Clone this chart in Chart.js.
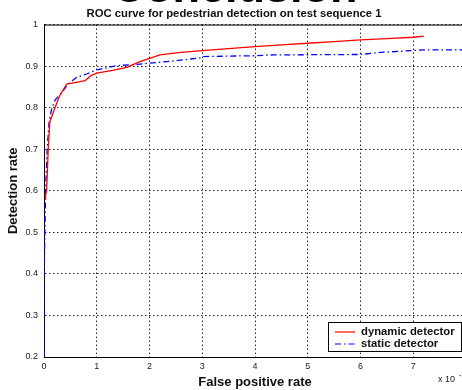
<!DOCTYPE html>
<html>
<head>
<meta charset="utf-8">
<script src="https://cdn.jsdelivr.net/npm/chart.js@4/dist/chart.umd.min.js"></script>
<style>
  html, body { margin: 0; padding: 0; background: #fff; overflow: hidden; }
  #roc { display: block; }
</style>
</head>
<body>
<canvas id="roc" width="470" height="390"></canvas>
<script>
// dynamic detector (red, solid)
const dynamicX = [0.02, 0.03, 0.05, 0.08, 0.11, 0.18, 0.29, 0.43, 0.53, 0.78, 0.89, 1.0, 1.3, 1.57, 1.82, 2.2, 2.6, 3.0, 3.5, 4.0, 4.5, 5.0, 5.5, 6.0, 6.5, 7.0, 7.2];
const dynamicY = [0.58, 0.59, 0.60, 0.70, 0.765, 0.79, 0.827, 0.857, 0.859, 0.865, 0.877, 0.883, 0.89, 0.897, 0.911, 0.927, 0.933, 0.9375, 0.942, 0.947, 0.951, 0.955, 0.959, 0.963, 0.966, 0.9695, 0.972];
// static detector (blue, dash-dot)
const staticX = [0, 0, 0.01, 0.03, 0.06, 0.1, 0.146, 0.21, 0.34, 0.46, 0.62, 0.81, 1.0, 1.38, 1.82, 2.0, 2.5, 2.96, 3.0, 4.0, 4.35, 6.0, 6.38, 7.0, 7.2, 8.0];
const staticY = [0.2, 0.37, 0.45, 0.6, 0.70, 0.77, 0.797, 0.818, 0.837, 0.857, 0.873, 0.881, 0.891, 0.901, 0.905, 0.907, 0.913, 0.92, 0.923, 0.925, 0.927, 0.928, 0.933, 0.9375, 0.939, 0.939];
const seriesNames = ["dynamic detector", "static detector"];
const xTicks = [0, 1, 2, 3, 4, 5, 6, 7, 8];
const yTicks = [0.2, 0.3, 0.4, 0.5, 0.6, 0.7, 0.8, 0.9, 1];

const toPoints = (xs, ys) => xs.map((x, i) => ({ x: x, y: ys[i] }));

const FONT = "'Liberation Sans', Arial, Helvetica, sans-serif";
const grid = { color: "#222", lineWidth: 1, drawTicks: false };
//in v4 the dash of the grid lines sits on border
const border = { display: true, color: "#000", width: 1, dash: [1.5, 2.5] };

//slide heading, frame, legend box and the x10 exponent
const extras = {
  id: "extras",
  beforeDatasetsDraw: chart => {
    const ctx = chart.ctx;
    const a = chart.chartArea;
    ctx.save();
    // solid frame under the curves
    ctx.strokeStyle = "#000";
    ctx.lineWidth = 1;
    ctx.setLineDash([]);
    ctx.beginPath();
    ctx.moveTo(a.right, a.top + 0.5);
    ctx.lineTo(a.left + 0.5, a.top + 0.5);
    ctx.lineTo(a.left + 0.5, a.bottom + 0.5);
    ctx.lineTo(a.right, a.bottom + 0.5);
    ctx.stroke();
    ctx.restore();
  },
  afterDraw: chart => {
    const ctx = chart.ctx;
    ctx.save();
    // slide heading (mostly cut off at the top)
    ctx.fillStyle = "#000";
    ctx.font = "bold 45px " + FONT;
    ctx.textAlign = "center";
    ctx.textBaseline = "alphabetic";
    ctx.fillText("Conclusion", 235, 2);
    // exponent
    ctx.font = "9px " + FONT;
    ctx.textAlign = "left";
    ctx.textBaseline = "middle";
    ctx.fillStyle = "#222";
    ctx.fillText("x 10", 438, 380);
    ctx.font = "7px " + FONT;
    ctx.fillText("-3", 459, 375);
    // legend
    const bx = 328.5, by = 322.5, bw = 133, bh = 29;
    ctx.fillStyle = "#fff";
    ctx.fillRect(bx, by, bw, bh);
    ctx.strokeStyle = "#000";
    ctx.lineWidth = 1;
    ctx.strokeRect(bx, by, bw, bh);
    ctx.font = "bold 11.3px " + FONT;
    ctx.fillStyle = "#111";
    chart.data.datasets.forEach((ds, i) => {
      const ly = 332 + i * 12;
      ctx.strokeStyle = ds.borderColor;
      ctx.lineWidth = 1.2;
      ctx.setLineDash(ds.borderDash || []);
      ctx.beginPath();
      ctx.moveTo(335, ly);
      ctx.lineTo(355, ly);
      ctx.stroke();
      ctx.setLineDash([]);
      ctx.fillText(ds.label, 361, ly);
    });
    ctx.restore();
  }
};

new Chart(document.getElementById("roc"), {
  type: "line",
  plugins: [extras],
  data: {
    datasets: [
      {
        label: seriesNames[0],
        data: toPoints(dynamicX, dynamicY),
        borderColor: "#ff0000",
        borderWidth: 1.3,
        pointRadius: 0,
        tension: 0,
      },
      {
        label: seriesNames[1],
        data: toPoints(staticX, staticY),
        borderColor: "#0000ff",
        borderWidth: 1.3,
        borderDash: [6, 3, 1.5, 3],
        pointRadius: 0,
        tension: 0,
      },
    ],
  },
  options: {
    responsive: false,
    animation: false,
    layout: { padding: { left: 0, right: 2, top: 0, bottom: 0 } },
    plugins: {
      legend: { display: false },
      tooltip: { enabled: false },
      title: {
        display: true,
        text: "ROC curve for pedestrian detection on test sequence 1",
        color: "#111",
        font: { family: FONT, size: 11.3, weight: "bold" },
        padding: { top: 7, bottom: 4 },
      },
    },
    scales: {
      x: {
        type: "linear",
        min: 0,
        max: 8,
        afterBuildTicks: s => { s.ticks = xTicks.map(v => ({ value: v })); },
        afterFit: s => { s.height = 33; },
        ticks: {
          color: "#222",
          font: { family: FONT, size: 9 },
          padding: 4,
          maxRotation: 0,
          callback: v => (v < 8 ? String(v) : ""),
        },
        grid: grid,
        border: border,
        title: {
          display: true,
          text: "False positive rate",
          color: "#111",
          font: { family: FONT, size: 13, weight: "bold" },
          padding: { top: 1, bottom: 0 },
        },
      },
      y: {
        type: "linear",
        min: 0.2,
        max: 1,
        afterBuildTicks: s => { s.ticks = yTicks.map(v => ({ value: v })); },
        afterFit: s => { s.width = 44; },
        ticks: {
          color: "#222",
          font: { family: FONT, size: 9 },
          padding: 6,
          callback: v => (v === 1 ? "1" : v.toFixed(1)),
        },
        grid: grid,
        border: border,
        title: {
          display: true,
          text: "Detection rate",
          color: "#111",
          font: { family: FONT, size: 13, weight: "bold" },
          padding: { top: 6, bottom: 0 },
        },
      },
    },
  },
});
</script>
</body>
</html>
